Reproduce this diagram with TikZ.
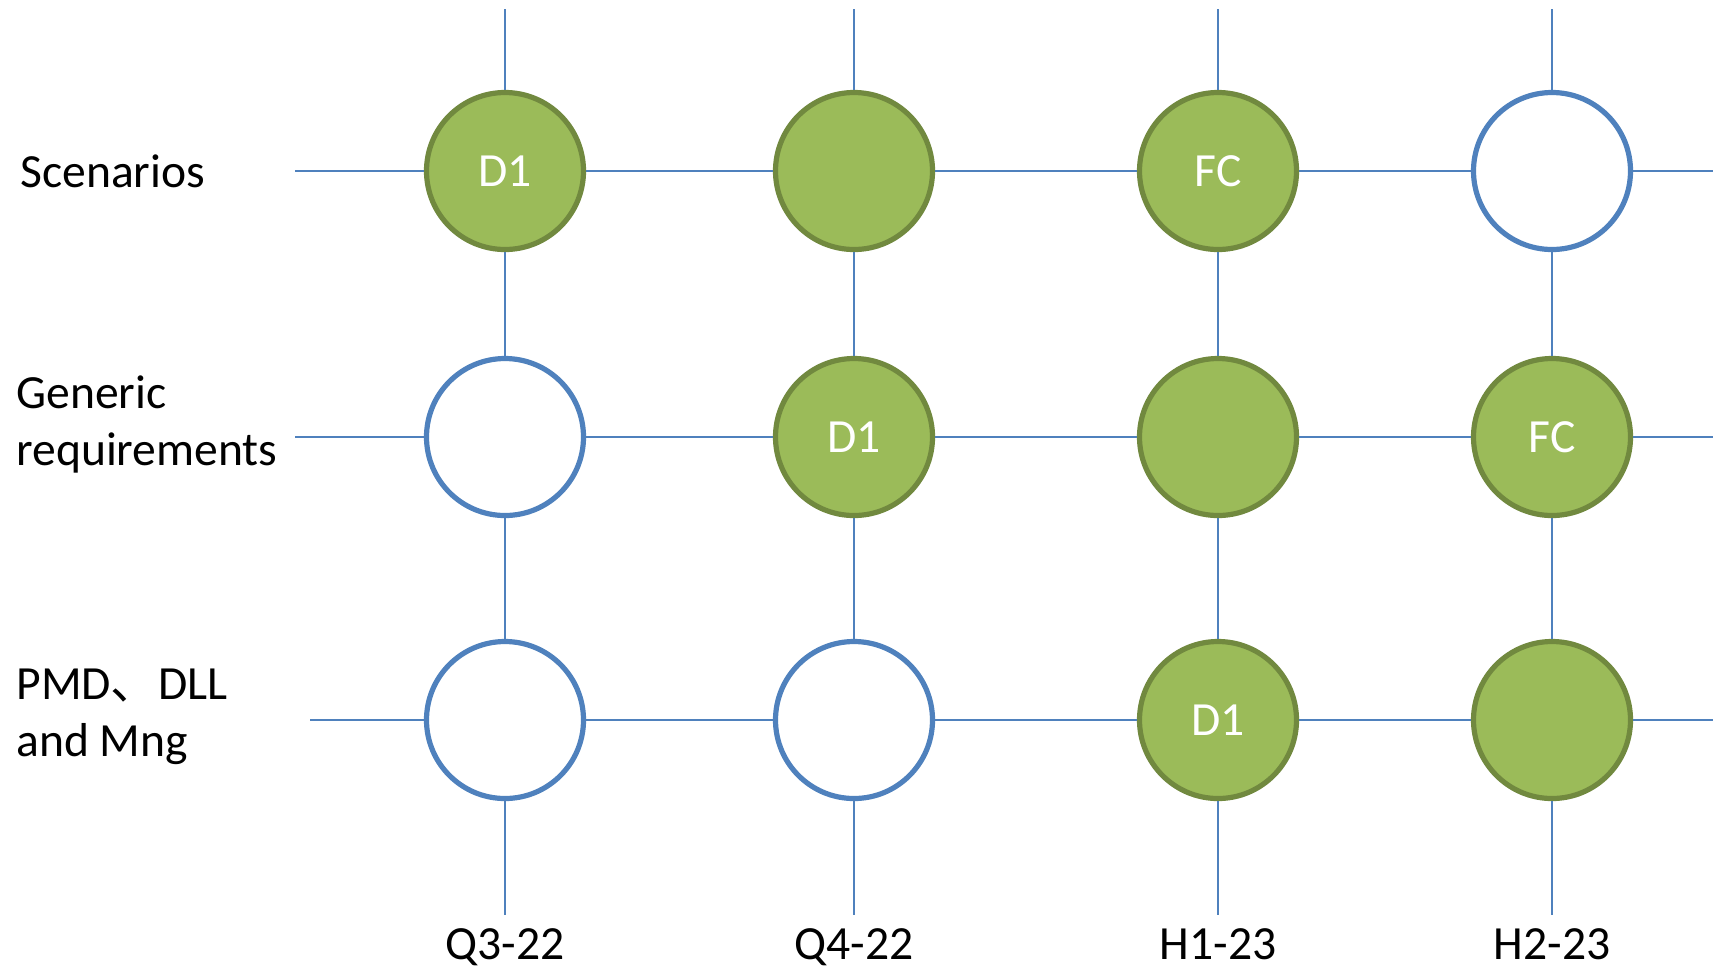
\documentclass[tikz,border=0pt]{standalone}
\usepackage{fontspec}
\setmainfont{Carlito}
\newfontfamily\cjk{Noto Sans CJK SC}
\definecolor{gfill}{HTML}{9BBB59}
\definecolor{gline}{HTML}{71893F}
\definecolor{bline}{HTML}{4F81BD}
\newcommand\lblfont{\fontsize{23.8}{28.5}\selectfont}
\begin{document}
\begin{tikzpicture}[x=0.5pt,y=-0.5pt,
  conn/.style={draw=bline, line width=1pt},
  done/.style={circle, minimum size=78.5pt, inner sep=0pt, fill=gfill, draw=gline, line width=2.6pt, text=white, font=\lblfont},
  todo/.style={circle, minimum size=78.5pt, inner sep=0pt, fill=white, draw=bline, line width=2.6pt},
  rowlbl/.style={font=\lblfont, inner sep=0pt, anchor=base west},
  collbl/.style={font=\lblfont, inner sep=0pt, anchor=base}]
\useasboundingbox (0,0) rectangle (1713,971);
% circles
\node[done] (a1) at (505,171) {D1};
\node[done] (a2) at (854,171) {};
\node[done] (a3) at (1218,171) {FC};
\node[todo] (a4) at (1552,171) {};
\node[todo] (b1) at (505,437) {};
\node[done] (b2) at (854,437) {D1};
\node[done] (b3) at (1218,437) {};
\node[done] (b4) at (1552,437) {FC};
\node[todo] (c1) at (505,720) {};
\node[todo] (c2) at (854,720) {};
\node[done] (c3) at (1218,720) {D1};
\node[done] (c4) at (1552,720) {};
% free ends
\foreach \i/\x in {1/505,2/854,3/1218,4/1552}{
  \coordinate (t\i) at (\x,9);
  \coordinate (u\i) at (\x,915);
}
\coordinate (la) at (295,171);
\coordinate (lb) at (295,437);
\coordinate (lc) at (310,720);
\coordinate (ra) at (1713,171);
\coordinate (rb) at (1713,437);
\coordinate (rc) at (1713,720);
% connectors
\foreach \i in {1,2,3,4}{
  \draw[conn] (t\i) -- (a\i);
  \draw[conn] (a\i) -- (b\i);
  \draw[conn] (b\i) -- (c\i);
  \draw[conn] (c\i) -- (u\i);
}
\foreach \r in {a,b,c}{
  \draw[conn] (l\r) -- (\r1);
  \draw[conn] (\r1) -- (\r2);
  \draw[conn] (\r2) -- (\r3);
  \draw[conn] (\r3) -- (\r4);
  \draw[conn] (\r4) -- (r\r);
}
% row labels
\node[rowlbl] (s1) at (20,187) {Scenarios};
\node[rowlbl] (g1) at (16,408) {Generic};
\node[rowlbl] (g2) at (16,465) {requirements};
\node[rowlbl] (p1) at (16,699) {PMD{\cjk 、}DLL};
\node[rowlbl] (p2) at (16,756) {and Mng};
% column labels
\node[collbl] (q1) at (505,959) {Q3-22};
\node[collbl] (q2) at (854,959) {Q4-22};
\node[collbl] (q3) at (1218,959) {H1-23};
\node[collbl] (q4) at (1552,959) {H2-23};
\end{tikzpicture}
\end{document}
